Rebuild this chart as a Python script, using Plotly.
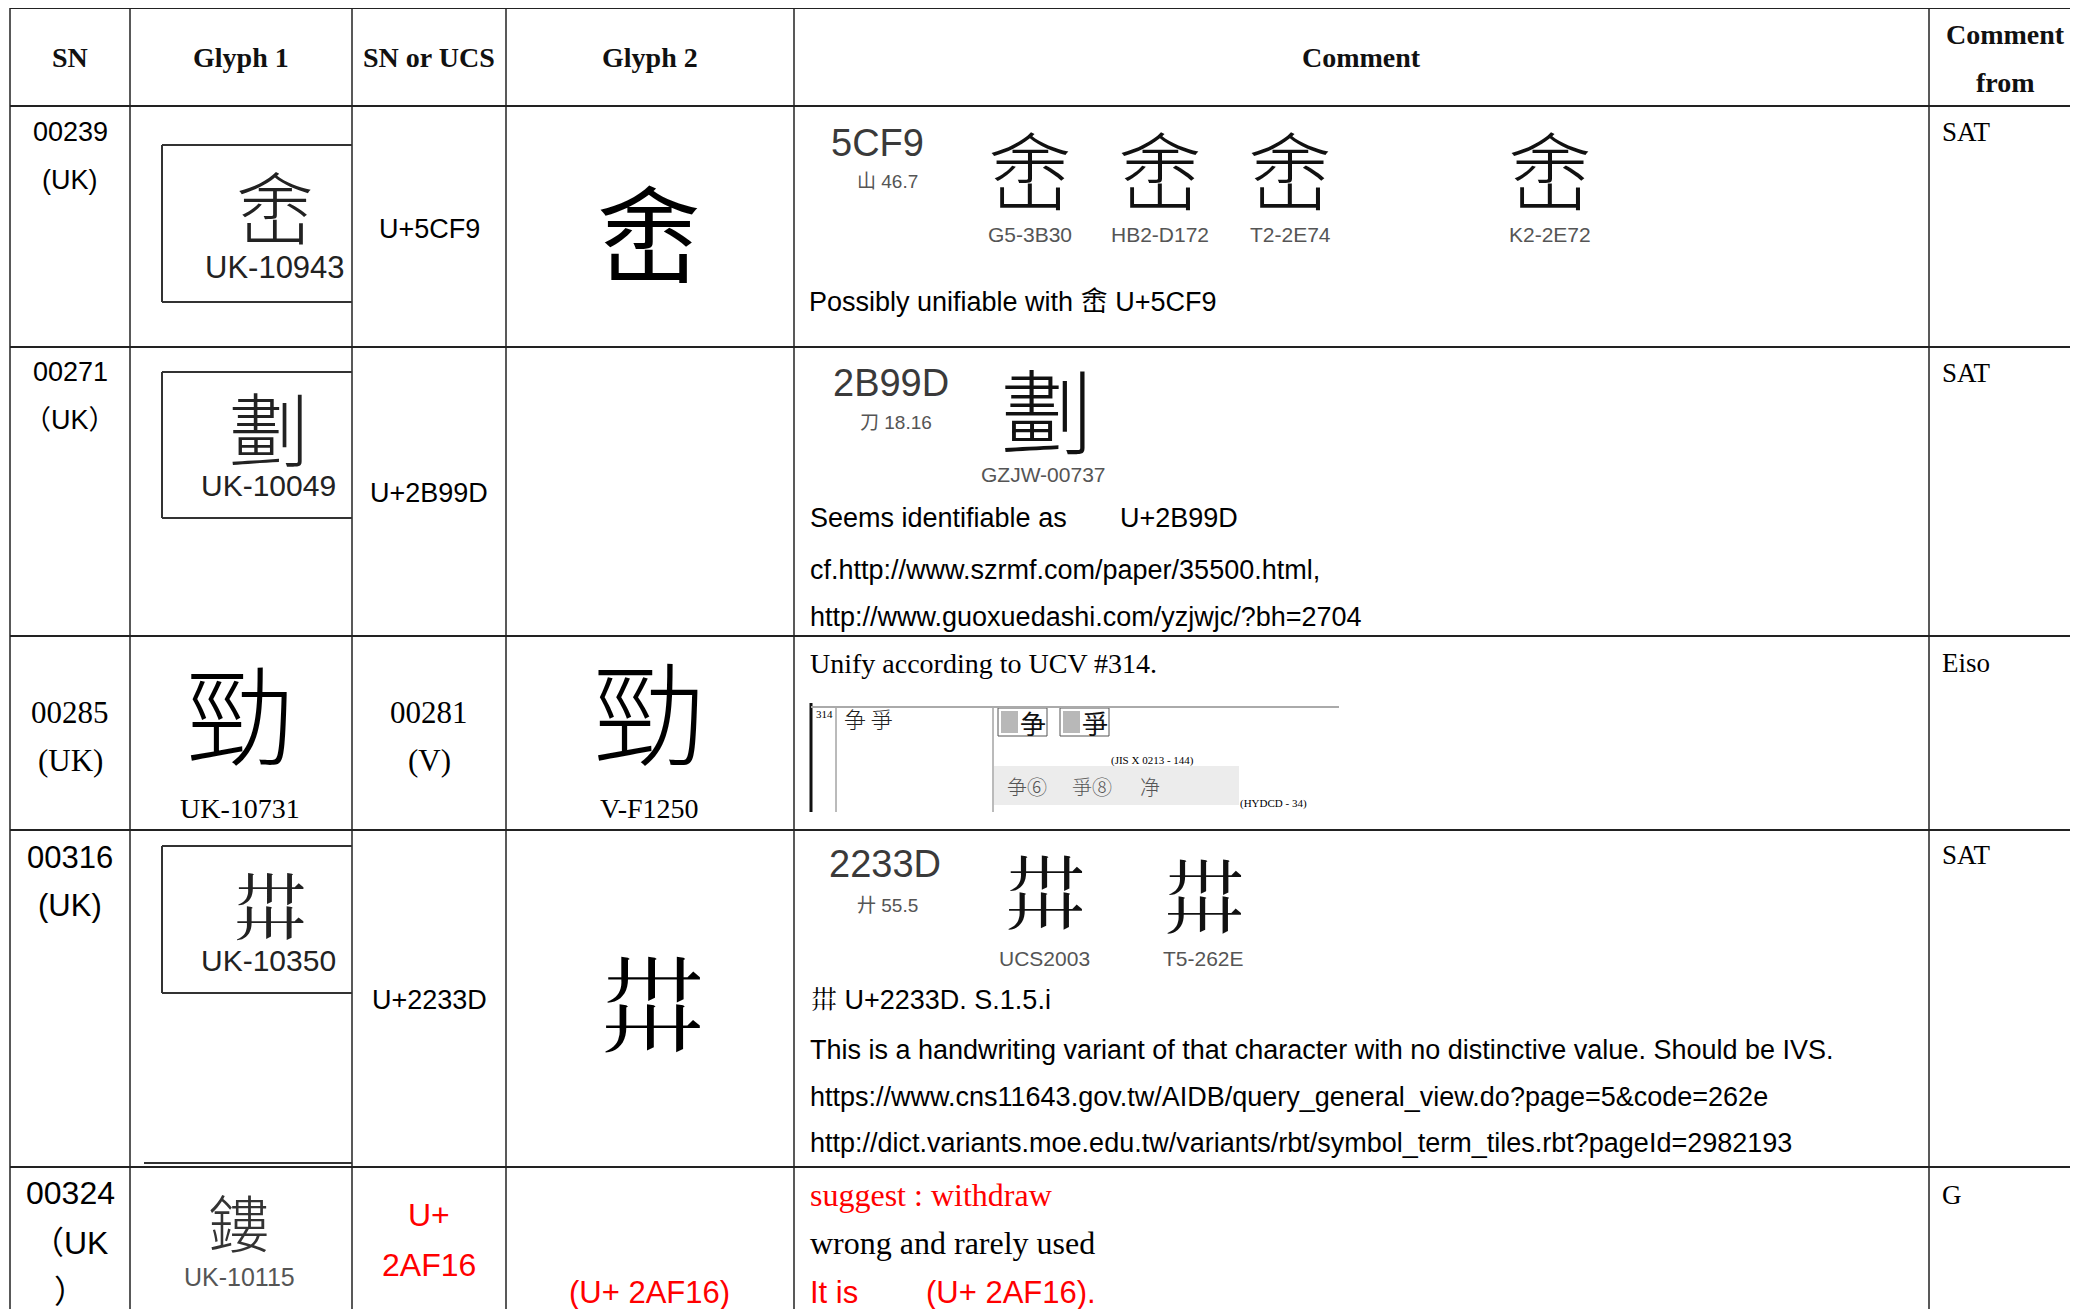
import plotly.graph_objects as go

W, H = 2078, 1309
OFF = 8  # page body margin: axis ranges shifted so data coords == screen px

# ------------------------------------------------------------------ data
headers = ["SN", "Glyph 1", "SN or UCS", "Glyph 2", "Comment"]
header_last = ["Comment", "from"]
sn_lines = [["00239", "(UK)"], ["00271", "（UK）"], ["00285", "(UK)"],
            ["00316", "(UK)"], ["00324", "（UK", "）"]]
glyph1_chars = ["峹", "劃", "勁", "𢌽", "鏤"]
glyph1_ids = ["UK-10943", "UK-10049", "UK-10731", "UK-10350", "UK-10115"]
ucs_lines = [["U+5CF9"], ["U+2B99D"], ["00281", "(V)"], ["U+2233D"], ["U+", "2AF16"]]
glyph2_chars = ["峹", "", "勁", "𢌽", ""]
glyph2_ids = ["", "", "V-F1250", "", "(U+ 2AF16)"]
comment_from = ["SAT", "SAT", "Eiso", "SAT", "G"]

r1_code, r1_rad = "5CF9", "山 46.7"
r1_glyph = "峹"
r1_sources = ["G5-3B30", "HB2-D172", "T2-2E74", "K2-2E72"]
r1_text = "Possibly unifiable with 峹 U+5CF9"

r2_code, r2_rad = "2B99D", "刀 18.16"
r2_glyph, r2_source = "劃", "GZJW-00737"
r2_text = ["Seems identifiable as", "U+2B99D",
           "cf.http://www.szrmf.com/paper/35500.html,",
           "http://www.guoxuedashi.com/yzjwjc/?bh=2704"]

r3_text = "Unify according to UCV #314."
r3_ucv, r3_pair = "314", "争 爭"
r3_boxed = ["争", "爭"]
r3_jis = "(JIS X 0213 - 144)"
r3_hydcd_chars = ["争⑥", "爭⑧", "净"]
r3_hydcd = "(HYDCD - 34)"

r4_code, r4_rad = "2233D", "廾 55.5"
r4_glyph = "𢌽"
r4_sources = ["UCS2003", "T5-262E"]
r4_text = ["𢌽 U+2233D. S.1.5.i",
           "This is a handwriting variant of that character with no distinctive value. Should be IVS.",
           "https://www.cns11643.gov.tw/AIDB/query_general_view.do?page=5&code=262e",
           "http://dict.variants.moe.edu.tw/variants/rbt/symbol_term_tiles.rbt?pageId=2982193"]

r5_red1 = "suggest : withdraw"
r5_black = "wrong and rarely used"
r5_red2 = ["It is", "(U+ 2AF16)."]

# ------------------------------------------------------------------ layout
col_edges = [10, 130, 352, 506, 794, 1929]
row_edges = [8, 106, 347, 636, 830, 1167]

SANS = "Liberation Sans, Arial, Noto Sans CJK SC, Noto Sans CJK TC, Noto Sans CJK JP"
SERIF = "Liberation Serif, Noto Sans CJK SC"
CJK = "Noto Sans CJK SC, Noto Sans CJK TC, Noto Sans CJK JP, Noto Sans CJK KR"
RED = "#ff0000"
GW = 300  # lighter stroke weight for glyph images

fig = go.Figure()
shapes = []


def line(x0, y0, x1, y1, w=1.5, c="#222"):
    shapes.append(dict(type="line", xref="x", yref="y", x0=x0, y0=y0, x1=x1, y1=y1,
                       line=dict(color=c, width=w)))


def rect(x0, y0, x1, y1, fill, lc="rgba(0,0,0,0)", w=0):
    shapes.append(dict(type="rect", xref="x", yref="y", x0=x0, y0=y0, x1=x1, y1=y1,
                       fillcolor=fill, line=dict(color=lc, width=w), layer="below"))


def txt(x, y, s, size, family=SANS, color="#000", xa="center", ya="middle", weight="normal"):
    fig.add_annotation(x=x, y=y, text=s, showarrow=False, xref="x", yref="y",
                       xanchor=xa, yanchor=ya, borderpad=0,
                       font=dict(family=family, size=size, color=color, weight=weight))


# grid
for x in col_edges:
    line(x, row_edges[0], x, H + OFF, 1.5)
for y in row_edges:
    line(col_edges[0], y, W + OFF, y, 2)

# header
hx = [(col_edges[i] + col_edges[i + 1]) / 2 for i in range(5)]
for x, h in zip(hx, headers):
    txt(x, 57, h, 28, SERIF, "#111", weight="bold")
txt(2005, 34, header_last[0], 28, SERIF, "#111", weight="bold")
txt(2005, 82, header_last[1], 28, SERIF, "#111", weight="bold")

# SN column
sn_pos = [[132, 180], [372, 420], [712, 760], [857, 905], [1193, 1243, 1292]]
sn_size = [27, 27, 31, 31, 32]
sn_font = [SANS, SANS, SERIF, SANS, SANS]
for lines_, ys, sz, fam in zip(sn_lines, sn_pos, sn_size, sn_font):
    for s, y in zip(lines_, ys):
        txt(70, y, s, sz, fam)

# Glyph 1 column: framed images (rows 1,2,4)
for (top, bot) in [(145, 302), (372, 518), (846, 993)]:
    line(162, top, 352, top, 2, "#333")
    line(162, top, 162, bot, 2, "#333")
    line(162, bot, 352, bot, 2, "#333")
line(144, 1163, 352, 1163, 2, "#333")

g1_pos = [(275, 205, 78), (269, 425, 80), (240, 710, 108), (269, 902, 76), (239, 1221, 62)]
g1_id_pos = [(275, 267, 31, SANS, "#222"), (268, 485, 30, SANS, "#222"),
             (240, 808, 28, SERIF, "#000"), (268, 960, 30, SANS, "#222"),
             (239, 1277, 25, SANS, "#555")]
g1_color = ["#222", "#222", "#000", "#222", "#333"]
for ch, (x, y, sz), c in zip(glyph1_chars, g1_pos, g1_color):
    txt(x, y, ch, sz, CJK, c, weight=GW)
for s, (x, y, sz, fam, c) in zip(glyph1_ids, g1_id_pos):
    txt(x, y, s, sz, fam, c)

# SN or UCS column
ucs_pos = [[229], [493], [712, 760], [1000], [1215, 1265]]
ucs_style = [(27, SANS, "#000"), (27, SANS, "#000"), (31, SERIF, "#000"),
             (27, SANS, "#000"), (32, SANS, RED)]
for lines_, ys, (sz, fam, c) in zip(ucs_lines, ucs_pos, ucs_style):
    for s, y in zip(lines_, ys):
        txt(429, y, s, sz, fam, c)

# Glyph 2 column
g2_pos = [(649, 229, 104), None, (649, 708, 112), (651, 998, 108), None]
g2_w = ["normal", "normal", GW, "normal", "normal"]
for ch, p, gw in zip(glyph2_chars, g2_pos, g2_w):
    if ch and p:
        txt(p[0], p[1], ch, p[2], CJK, "#000", weight=gw)
txt(649, 808, glyph2_ids[2], 28, SERIF)
txt(649, 1292, glyph2_ids[4], 31, SANS, RED)

# Comment from column
cf_y = [132, 373, 663, 855, 1195]
for s, y in zip(comment_from, cf_y):
    txt(1941, y, s, 27, SERIF, xa="left")

# ---- Row 1 comment
txt(877, 143, r1_code, 38, SANS, "#3a3a3a")
txt(887, 181, r1_rad, 19, SANS, "#555")
for x, s in zip([1030, 1160, 1290, 1550], r1_sources):
    txt(x, 167, r1_glyph, 84, CJK, "#111", weight=GW)
    txt(x, 234, s, 21, SANS, "#555")
txt(808, 302, r1_text, 27, SANS, xa="left")

# ---- Row 2 comment
txt(891, 383, r2_code, 38, SANS, "#3a3a3a")
txt(896, 422, r2_rad, 19, SANS, "#555")
txt(1047, 406, r2_glyph, 92, CJK, "#111", weight=GW)
txt(1043, 474, r2_source, 21, SANS, "#555")
txt(809, 518, r2_text[0], 27, SANS, xa="left")
txt(1119, 518, r2_text[1], 27, SANS, xa="left")
txt(809, 570, r2_text[2], 27, SANS, xa="left")
txt(809, 617, r2_text[3], 27, SANS, xa="left")

# ---- Row 3 comment
txt(809, 663, r3_text, 28, SERIF, xa="left")
line(811, 703, 811, 812, 3, "#111")
line(836, 706, 836, 812, 1, "#777")
line(993, 706, 993, 812, 1, "#777")
line(811, 707, 1339, 707, 2, "#aaa")
txt(824, 714, r3_ucv, 11, SERIF)
txt(843, 718, r3_pair, 22, CJK, "#222", xa="left", weight=GW)
for bx, ch in zip([998, 1060], r3_boxed):
    rect(bx, 708, bx + 49, 736, "#ffffff", "#555", 1)
    rect(bx + 3, 711, bx + 20, 733, "#b8b8b8")
    txt(bx + 35, 722, ch, 26, CJK, "#111")
txt(1110, 760, r3_jis, 11, SERIF, xa="left")
rect(994, 766, 1239, 805, "#ececec")
for x, s in zip([1027, 1092, 1150], r3_hydcd_chars):
    txt(x, 786, s, 20, CJK, "#555", weight=GW)
txt(1239, 803, r3_hydcd, 11, SERIF, xa="left")

# ---- Row 4 comment
txt(885, 864, r4_code, 38, SANS, "#3a3a3a")
txt(887, 905, r4_rad, 19, SANS, "#555")
for x, y, s in zip([1044, 1203], [887, 891], r4_sources):
    txt(x, y, r4_glyph, 84, CJK, "#111", weight=GW)
    txt(x, 958, s, 21, SANS, "#555")
for y, s in zip([1000, 1050, 1097, 1143], r4_text):
    txt(809, y, s, 27, SANS, xa="left")

# ---- Row 5 comment
txt(809, 1195, r5_red1, 32, SERIF, RED, xa="left")
txt(809, 1243, r5_black, 32, SERIF, "#000", xa="left")
txt(809, 1292, r5_red2[0], 31, SANS, RED, xa="left")
txt(925, 1292, r5_red2[1], 31, SANS, RED, xa="left")

fig.update_layout(
    width=W, height=H, margin=dict(l=0, r=0, t=0, b=0),
    paper_bgcolor="white", plot_bgcolor="white", showlegend=False,
    xaxis=dict(range=[OFF, W + OFF], visible=False, fixedrange=True),
    yaxis=dict(range=[H + OFF, OFF], visible=False, fixedrange=True),
    shapes=shapes,
)
fig.write_html("out.html")
